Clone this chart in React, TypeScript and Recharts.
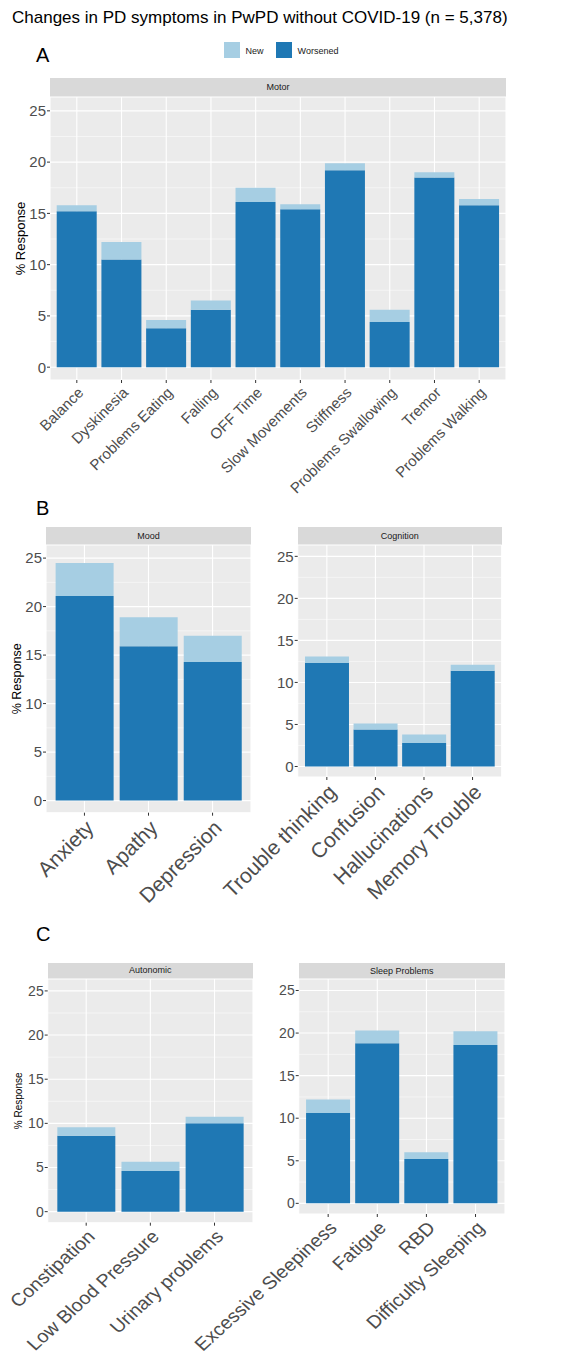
import React from "react";
import { BarChart, Bar, XAxis, YAxis, CartesianGrid, Legend } from "recharts";

// Motor
const motorSymptoms = [
  "Balance",
  "Dyskinesia",
  "Problems Eating",
  "Falling",
  "OFF Time",
  "Slow Movements",
  "Stiffness",
  "Problems Swallowing",
  "Tremor",
  "Problems Walking",
];
const motorWorsened = [15.2, 10.5, 3.8, 5.6, 16.1, 15.4, 19.2, 4.4, 18.5, 15.8];
const motorNew = [0.6, 1.7, 0.8, 0.9, 1.4, 0.5, 0.7, 1.2, 0.5, 0.6];

// Mood
const moodSymptoms = ["Anxiety", "Apathy", "Depression"];
const moodWorsened = [21.1, 15.9, 14.3];
const moodNew = [3.4, 3.0, 2.7];

// Cognition
const cognitionSymptoms = ["Trouble thinking", "Confusion", "Hallucinations", "Memory Trouble"];
const cognitionWorsened = [12.3, 4.4, 2.8, 11.4];
const cognitionNew = [0.8, 0.7, 1.0, 0.7];

// Autonomic
const autonomicSymptoms = ["Constipation", "Low Blood Pressure", "Urinary problems"];
const autonomicWorsened = [8.6, 4.6, 10.0];
const autonomicNew = [0.95, 1.05, 0.75];

// Sleep
const sleepSymptoms = ["Excessive Sleepiness", "Fatigue", "RBD", "Difficulty Sleeping"];
const sleepWorsened = [10.6, 18.8, 5.2, 18.6];
const sleepNew = [1.6, 1.5, 0.8, 1.6];

const yTicks = [0, 5, 10, 15, 20, 25];
const yMinorTicks = [2.5, 7.5, 12.5, 17.5, 22.5];

const DARK = "#1F78B4";
const LIGHT = "#A6CEE3";

// rotated category label, optionally stretched sideways like the source figure
function AngledTick(props: any) {
  const { x, y, payload, fontSize, sx } = props;
  return (
    <g transform={`translate(${x},${y})`}>
      <text
        transform={`scale(${sx},1) rotate(-45)`}
        textAnchor="end"
        dy="0.71em"
        fontSize={fontSize}
        fill="#4D4D4D"
      >
        {payload.value}
      </text>
    </g>
  );
}

type FacetProps = {
  strip: string;
  labels: string[];
  worsened: number[];
  added: number[];
  left: number;
  right: number;
  top: number;
  bottom: number;
  stripHeight: number;
  chartTop: number;
  chartHeight: number;
  xTickSize: number;
  xStretch?: number;
  yTickSize: number;
  yAxisWidth?: number;
  yLabel?: { size: number; offset: number };
  legend?: boolean;
};

function Facet(p: FacetProps) {
  const data = p.labels.map((name, i) => ({ name, Worsened: p.worsened[i], New: p.added[i] }));
  const n = p.labels.length;
  // ggplot discrete expansion: 0.6 units each side, bars 0.9 wide
  const pad = ((p.right - p.left) / (n + 0.2)) * 0.1;
  const yW = p.yAxisWidth ?? 36;

  return (
    <>
      <div
        style={{
          position: "absolute",
          left: p.left,
          top: p.top - p.stripHeight,
          width: p.right - p.left,
          height: p.stripHeight,
          background: "#D9D9D9",
          color: "#1A1A1A",
          fontSize: 9,
          lineHeight: `${p.stripHeight}px`,
          textAlign: "center",
        }}
      >
        {p.strip}
      </div>
      <div style={{ position: "absolute", left: 0, top: p.chartTop }}>
        <BarChart
          width={576}
          height={p.chartHeight}
          data={data}
          margin={{ top: p.top - p.chartTop, right: 576 - p.right, bottom: 0, left: p.left - yW }}
          barCategoryGap="5%"
        >
          <CartesianGrid fill="#EBEBEB" stroke="#FFFFFF" strokeWidth={1.1} />
          <CartesianGrid
            horizontalValues={yMinorTicks}
            vertical={false}
            stroke="#FFFFFF"
            strokeWidth={0.5}
          />
          <XAxis
            dataKey="name"
            type="category"
            interval={0}
            height={p.chartHeight - (p.bottom - p.chartTop)}
            padding={{ left: pad, right: pad }}
            axisLine={false}
            tickLine={{ stroke: "#333333" }}
            tickSize={3}
            tickMargin={3}
            tick={<AngledTick fontSize={p.xTickSize} sx={p.xStretch ?? 1} />}
          />
          <YAxis
            type="number"
            domain={[-1.25, 26.35]}
            ticks={yTicks}
            width={yW}
            axisLine={false}
            tickLine={{ stroke: "#333333" }}
            tickSize={3}
            tickMargin={1}
            tick={{ fontSize: p.yTickSize, fill: "#4D4D4D" }}
            label={
              p.yLabel
                ? {
                    value: "% Response",
                    angle: -90,
                    position: "insideLeft",
                    offset: p.yLabel.offset,
                    style: { textAnchor: "middle", fontSize: p.yLabel.size, fill: "#000000" },
                  }
                : undefined
            }
          />
          {p.legend && (
            <Legend
              verticalAlign="middle"
              align="center"
              iconType="square"
              iconSize={16}
              itemSorter="value"
              wrapperStyle={{ top: 0, left: 202, width: 170 }}
              formatter={(value: string) => (
                <span style={{ color: "#1A1A1A", fontSize: 9, marginLeft: 2, marginRight: 2 }}>
                  {value}
                </span>
              )}
            />
          )}
          <Bar dataKey="Worsened" stackId="s" fill={DARK} isAnimationActive={false} />
          <Bar dataKey="New" stackId="s" fill={LIGHT} isAnimationActive={false} />
        </BarChart>
      </div>
    </>
  );
}

const letterStyle: React.CSSProperties = {
  position: "absolute",
  left: 36,
  fontSize: 20,
  lineHeight: "20px",
  color: "#000",
};

export default function App() {
  return (
    <div
      style={{
        position: "fixed",
        left: 0,
        top: 0,
        width: 576,
        height: 1356,
        overflow: "hidden",
        background: "#FFFFFF",
        fontFamily: "'Liberation Sans', Arial, Helvetica, sans-serif",
      }}
    >
      <div
        style={{
          position: "absolute",
          left: 12,
          top: 8,
          fontSize: 17,
          lineHeight: "20px",
          color: "#000",
          whiteSpace: "nowrap",
        }}
      >
        Changes in PD symptoms in PwPD without COVID-19 (n = 5,378)
      </div>
      <div style={{ ...letterStyle, top: 45 }}>A</div>
      <div style={{ ...letterStyle, top: 498 }}>B</div>
      <div style={{ ...letterStyle, top: 924 }}>C</div>

      {/* A */}
      <div style={{ position: "absolute", left: 0, top: 0, width: 576, height: 510 }}>
        <Facet
          strip="Motor"
          labels={motorSymptoms}
          worsened={motorWorsened}
          added={motorNew}
          left={50}
          right={506}
          top={97}
          bottom={380}
          stripHeight={19}
          chartTop={40}
          chartHeight={465}
          xTickSize={15}
          yTickSize={15}
          yAxisWidth={38}
          yLabel={{ size: 13, offset: 8 }}
          legend
        />
      </div>

      {/* B */}
      <div
        style={{ position: "absolute", left: 0, top: 500, width: 576, height: 407, overflow: "hidden" }}
      >
        <Facet
          strip="Mood"
          labels={moodSymptoms}
          worsened={moodWorsened}
          added={moodNew}
          left={46}
          right={251}
          top={45}
          bottom={312.7}
          stripHeight={18.3}
          chartTop={35}
          chartHeight={372}
          xTickSize={21}
          yTickSize={15}
          yLabel={{ size: 12.5, offset: 6.7 }}
        />
        <Facet
          strip="Cognition"
          labels={cognitionSymptoms}
          worsened={cognitionWorsened}
          added={cognitionNew}
          left={297.7}
          right={501.7}
          top={45}
          bottom={277}
          stripHeight={18.3}
          chartTop={35}
          chartHeight={372}
          xTickSize={21}
          yTickSize={15}
        />
      </div>

      {/* C */}
      <div
        style={{ position: "absolute", left: 0, top: 920, width: 576, height: 436, overflow: "hidden" }}
      >
        <Facet
          strip="Autonomic"
          labels={autonomicSymptoms}
          worsened={autonomicWorsened}
          added={autonomicNew}
          left={47.7}
          right={253}
          top={59}
          bottom={302.7}
          stripHeight={15.7}
          chartTop={49}
          chartHeight={387}
          xTickSize={18}
          xStretch={1.1}
          yTickSize={14}
          yLabel={{ size: 10, offset: 6.3 }}
        />
        <Facet
          strip="Sleep Problems"
          labels={sleepSymptoms}
          worsened={sleepWorsened}
          added={sleepNew}
          left={298.7}
          right={505}
          top={59}
          bottom={294}
          stripHeight={16}
          chartTop={49}
          chartHeight={387}
          xTickSize={18}
          xStretch={1.1}
          yTickSize={14}
        />
      </div>
    </div>
  );
}
